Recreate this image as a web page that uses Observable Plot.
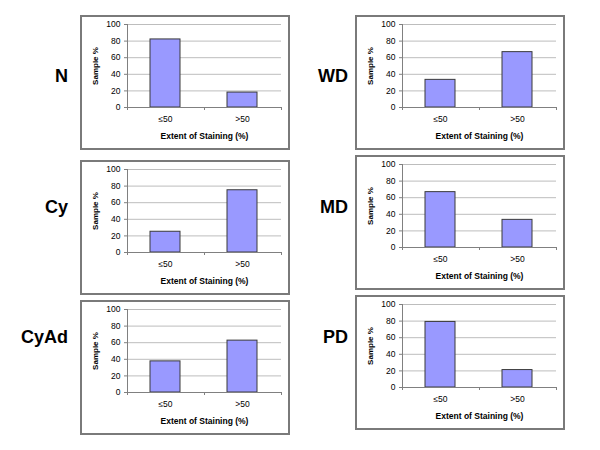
<!DOCTYPE html>
<html>
<head>
<meta charset="utf-8">
<script src="https://cdn.jsdelivr.net/npm/d3@7"></script>
<script src="https://cdn.jsdelivr.net/npm/@observablehq/plot@0.6"></script>
<style>
  html, body { margin: 0; padding: 0; background: #fff; }
  #root { position: relative; width: 600px; height: 450px; background: #fff; font-family: "Liberation Sans", Arial, sans-serif; }
  .panel { position: absolute; box-sizing: border-box; border: 2px solid #7a7a7a; background: #fff; }
  .panel svg { position: absolute; left: 0; top: 0; }
  .rowlabel { position: absolute; font-weight: bold; font-size: 18px; color: #000; line-height: 1; text-align: right; width: 80px; transform: translateY(-50%); }
</style>
</head>
<body>
<div id="root"></div>
<script>
// ---- data ----
const categories = ["≤50", ">50"];
const groups = ["N", "Cy", "CyAd", "WD", "MD", "PD"];
const valuesLE50 = [82, 25, 37.5, 33.3, 66.7, 79];
const valuesGT50 = [18, 75, 62.5, 66.7, 33.3, 21];
const yTicks = [0, 20, 40, 60, 80, 100];
const yLabel = "Sample %";
const xLabel = "Extent of Staining (%)";

// ---- layout (panel box positions on the page) ----
const panelLeft = [80, 80, 80, 355, 355, 355];
const panelTop = [15, 160, 300, 15, 155, 295];
const labelRight = [68, 68, 68, 348, 348, 348];
const labelCenterY = [76, 207, 337, 76, 207, 337];
const panelW = 210, panelH = 135, border = 2;

const root = document.getElementById("root");

groups.forEach((g, i) => {
  const data = categories.map((c, j) => ({cat: c, value: j === 0 ? valuesLE50[i] : valuesGT50[i]}));

  const lbl = document.createElement("div");
  lbl.className = "rowlabel";
  lbl.textContent = g;
  lbl.style.left = (labelRight[i] - 80) + "px";
  lbl.style.top = labelCenterY[i] + "px";
  root.appendChild(lbl);

  const panel = document.createElement("div");
  panel.className = "panel";
  panel.style.left = panelLeft[i] + "px";
  panel.style.top = panelTop[i] + "px";
  panel.style.width = panelW + "px";
  panel.style.height = panelH + "px";

  const axes = (index, scales, values, dimensions) => {
    const {width, marginLeft, marginRight, marginTop} = dimensions;
    const y0 = scales.y(0);
    const grp = d3.create("svg:g").attr("stroke", "#808080").attr("stroke-width", 1);
    grp.append("line").attr("x1", marginLeft + 0.5).attr("x2", marginLeft + 0.5).attr("y1", marginTop).attr("y2", y0);
    grp.append("line").attr("x1", marginLeft).attr("x2", width - marginRight).attr("y1", y0 + 0.5).attr("y2", y0 + 0.5);
    const n = categories.length;
    const pw = width - marginLeft - marginRight;
    for (let k = 0; k <= n; k++) {
      const xx = Math.round(marginLeft + k * pw / n) + 0.5;
      grp.append("line").attr("x1", xx).attr("x2", xx).attr("y1", y0).attr("y2", y0 + 3);
    }
    return grp.node();
  };

  const chart = Plot.plot({
    width: panelW - 2 * border,
    height: panelH - 2 * border,
    marginLeft: 45,
    marginRight: 7,
    marginTop: 7,
    marginBottom: 41,
    style: {fontFamily: "'Liberation Sans', Arial, sans-serif", fontSize: "8.5px", color: "#000", background: "transparent", overflow: "visible"},
    x: {type: "band", domain: categories, paddingInner: 0.61, paddingOuter: 0.305, axis: null},
    y: {domain: [0, 100], axis: null},
    marks: [
      Plot.gridY(yTicks.slice(1), {stroke: "#bdbdbd", strokeOpacity: 1}),
      Plot.barY(data, {x: "cat", y: "value", fill: "#9999ff", stroke: "#3a3a3a", strokeWidth: 1}),
      axes,
      Plot.axisY(yTicks, {tickSize: 3, tickPadding: 4, stroke: "#808080", fill: "#000", label: null, fontSize: 8.5}),
      Plot.axisX({tickSize: 0, tickPadding: 8, fill: "#000", label: null, fontSize: 8.5}),
      Plot.text([xLabel], {frameAnchor: "bottom", dy: 29, fontWeight: "bold", fontSize: 8.5, fill: "#000", lineAnchor: "middle", textAnchor: "middle"}),
      Plot.text([yLabel], {frameAnchor: "left", dx: -32, rotate: -90, fontWeight: "bold", fontSize: 8, fill: "#000", textAnchor: "middle", lineAnchor: "middle"})
    ]
  });
  panel.appendChild(chart);
  root.appendChild(panel);
});
</script>
</body>
</html>
